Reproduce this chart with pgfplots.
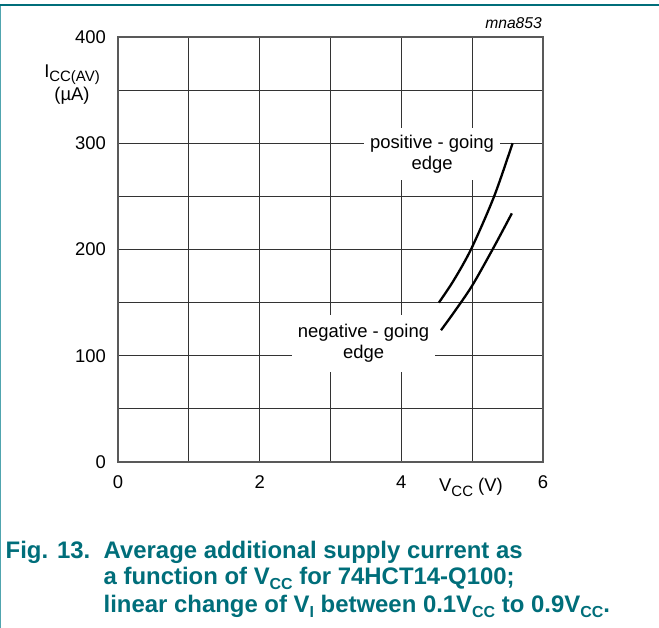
\documentclass[border=0pt]{standalone}
\usepackage{fontspec}
\setmainfont{Liberation Sans}
\usepackage{pgfplots}
\pgfplotsset{compat=1.18}
\definecolor{nxpteal}{RGB}{0,110,122}
\definecolor{nxplight}{RGB}{80,165,175}
\newcommand\tsub[1]{\raisebox{-4.5bp}{\fontsize{15}{15}\selectfont #1}}
\newcommand\csub[1]{\raisebox{-4.8bp}{\fontsize{16}{16}\selectfont #1}}
\begin{document}
\begin{tikzpicture}[x=1bp,y=1bp]
\useasboundingbox (0,0) rectangle (659,628);
\draw[nxplight, line width=1.2bp] (0.6,0) -- (0.6,623);
\draw[nxpteal, line width=2bp] (0,623) -- (659,623);
\begin{axis}[
  at={(118bp,166bp)}, anchor=south west,
  scale only axis, width=425bp, height=425bp,
  xmin=0, xmax=6, ymin=0, ymax=400,
  xtick={0,1,...,6}, xticklabels={0,,2,,4,,6},
  ytick={0,50,...,400}, yticklabels={0,,100,,200,,300,,400},
  grid=major, major grid style={black!80, line width=0.8bp},
  axis line style={black!65, line width=1.2bp},
  major tick length=0pt,
  tick label style={font=\fontsize{18.5}{21}\selectfont, inner sep=0pt},
  xticklabel style={anchor=north, yshift=-13.5bp},
  yticklabel style={anchor=east, xshift=-12bp},
  clip=false,
]
\node[fill=white, align=center, inner xsep=6bp, inner ysep=6.8bp,
      font=\fontsize{18.5}{21}\selectfont] at (axis cs:4.433,289.9)
      {positive - going\\edge};
\node[fill=white, align=center, inner xsep=5.7bp, inner ysep=9.3bp,
      font=\fontsize{18.5}{21}\selectfont] at (axis cs:3.466,111.5)
      {negative - going\\edge};
\addplot[black, line width=2.3bp, smooth] coordinates
  {(4.53,150) (4.74,171) (4.99,201) (5.31,250) (5.57,300)};
\addplot[black, line width=2.3bp, smooth] coordinates
  {(4.56,124) (4.75,141.5) (5.0,166) (5.3,201.5) (5.56,234)};
\end{axis}
% axis labels
\node[anchor=base, inner sep=0pt, font=\fontsize{18.5}{21}\selectfont] at (72,550.7) {I\tsub{CC(AV)}};
\node[anchor=base, inner sep=0pt, font=\fontsize{18.5}{21}\selectfont] at (72,527) {(µA)};
\node[anchor=base west, inner sep=0pt, font=\fontsize{18.5}{21}\selectfont] at (439,136.3) {V\tsub{CC} (V)};
\node[anchor=base east, inner sep=0pt, font=\fontsize{15.7}{18}\selectfont\itshape] at (542,599.7) {mna853};
% caption
\begin{scope}[every node/.style={anchor=base west, inner sep=0pt, text=nxpteal, font=\fontsize{24}{27}\selectfont\bfseries}]
\node at (5.5,69.7) {Fig. 13.};
\node at (103.5,69.7) {Average additional supply current as};
\node at (103.5,43) {a function of V\csub{CC} for 74HCT14-Q100;};
\node at (103.5,15.7) {linear change of V\csub{I} between 0.1V\csub{CC} to 0.9V\csub{CC}.};
\end{scope}
\end{tikzpicture}
\end{document}
